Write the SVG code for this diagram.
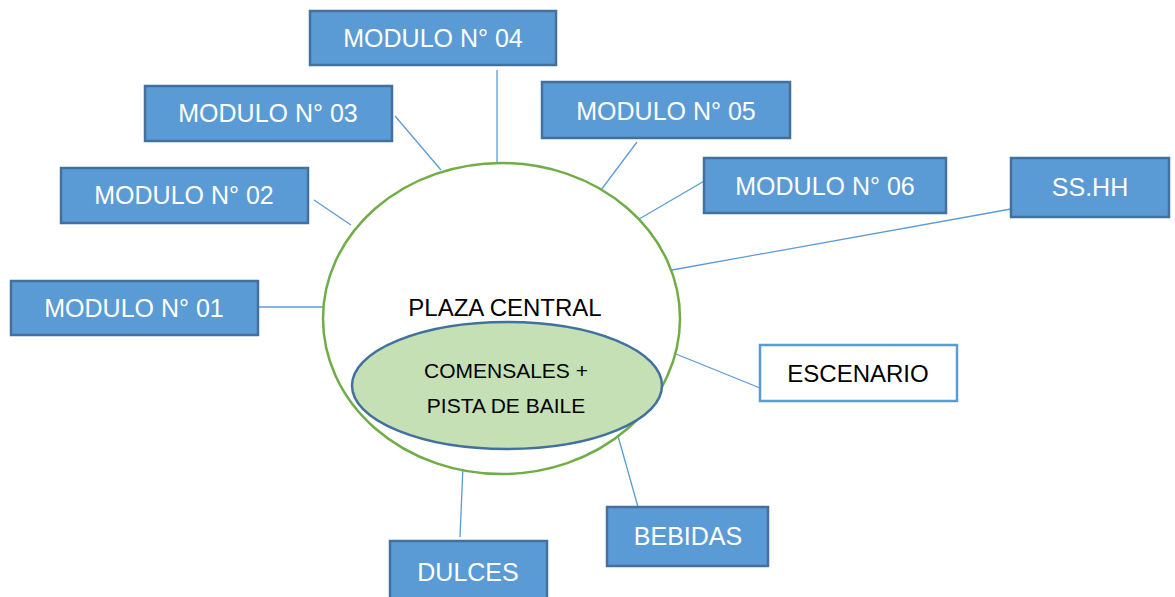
<svg xmlns="http://www.w3.org/2000/svg" width="1175" height="597" viewBox="0 0 1175 597">
<style>
.box{fill:#5B9BD5;stroke:#41719C;stroke-width:2.5}
.wbox{fill:#FFFFFF;stroke:#5B9BD5;stroke-width:2.5}
.t{font-family:"Liberation Sans",Arial,sans-serif;font-size:25px;fill:#FFFFFF;text-anchor:middle}
.tk{font-family:"Liberation Sans",Arial,sans-serif;font-size:24px;fill:#000000;text-anchor:middle}
.ts{font-family:"Liberation Sans",Arial,sans-serif;font-size:21px;fill:#000000;text-anchor:middle}
.c{stroke:#5B9BD5;stroke-width:1.3;fill:none}
</style>
<rect width="1175" height="597" fill="#FFFFFF"/>
<g id="connectors">
<line class="c" x1="258" y1="307" x2="323" y2="307"/>
<line class="c" x1="314" y1="200" x2="351" y2="225"/>
<line class="c" x1="395" y1="116" x2="441" y2="170"/>
<line class="c" x1="497" y1="70" x2="497" y2="168"/>
<line class="c" x1="637" y1="142" x2="601" y2="190"/>
<line class="c" x1="706" y1="180" x2="634" y2="222"/>
<line class="c" x1="1011" y1="209" x2="672" y2="270"/>
<line class="c" x1="676" y1="354" x2="760" y2="388"/>
<line class="c" x1="618" y1="436" x2="638" y2="507"/>
<line class="c" x1="463" y1="466" x2="460" y2="537"/>
</g>
<g id="plaza">
<ellipse cx="501.5" cy="318.5" rx="178.5" ry="155.5" fill="#FFFFFF" stroke="#70AD47" stroke-width="2.5"/>
<text class="tk" x="505" y="316">PLAZA CENTRAL</text>
</g>
<g id="comensales">
<ellipse cx="507" cy="385.5" rx="155" ry="63.5" fill="#C5E0B4" stroke="#41719C" stroke-width="2.5"/>
<text class="ts" x="506" y="378">COMENSALES +</text>
<text class="ts" x="506" y="413">PISTA DE BAILE</text>
</g>
<g id="m01"><rect class="box" x="11" y="281" width="247" height="54"/><text class="t" x="134" y="317">MODULO N° 01</text></g>
<g id="m02"><rect class="box" x="61" y="168" width="247" height="55"/><text class="t" x="184" y="204">MODULO N° 02</text></g>
<g id="m03"><rect class="box" x="145" y="86" width="247" height="55"/><text class="t" x="268" y="122">MODULO N° 03</text></g>
<g id="m04"><rect class="box" x="310" y="11" width="246" height="54"/><text class="t" x="433" y="47">MODULO N° 04</text></g>
<g id="m05"><rect class="box" x="542" y="82" width="248" height="56"/><text class="t" x="666" y="120">MODULO N° 05</text></g>
<g id="m06"><rect class="box" x="704" y="158" width="242" height="55"/><text class="t" x="825" y="195">MODULO N° 06</text></g>
<g id="sshh"><rect class="box" x="1011" y="158" width="158" height="59"/><text class="t" x="1090" y="196">SS.HH</text></g>
<g id="escenario"><rect class="wbox" x="760" y="345" width="197" height="56"/><text class="tk" x="858" y="382">ESCENARIO</text></g>
<g id="bebidas"><rect class="box" x="607" y="507" width="161" height="59"/><text class="t" x="688" y="545">BEBIDAS</text></g>
<g id="dulces"><rect class="box" x="390" y="541" width="157" height="60"/><text class="t" x="468" y="581">DULCES</text></g>
</svg>
